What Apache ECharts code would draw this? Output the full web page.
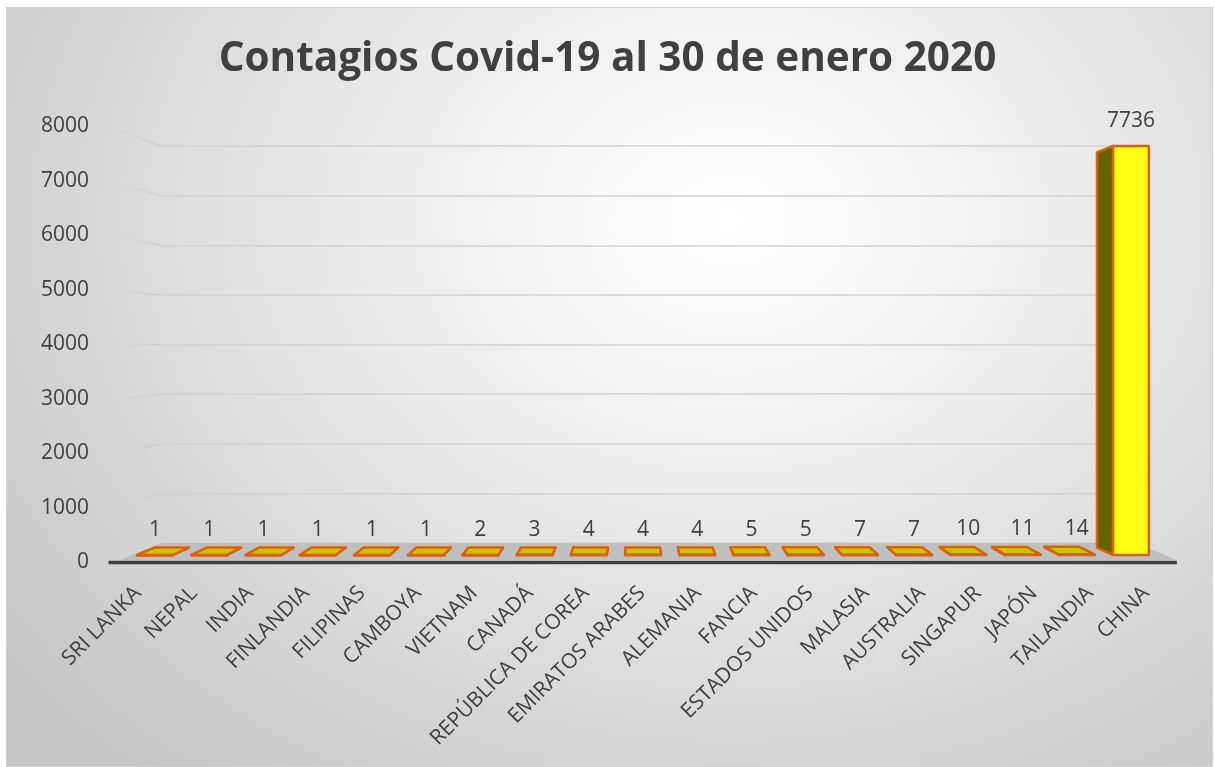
<!DOCTYPE html>
<html>
<head>
<meta charset="utf-8">
<script src="https://cdn.jsdelivr.net/npm/echarts@6/dist/echarts.min.js"></script>
<style>
  html, body { margin: 0; padding: 0; background: #ffffff; }
  #bg { position: absolute; left: 6px; top: 7px; width: 1205px; height: 758px;
        border: 1px solid #d2d2d2;
        background: radial-gradient(ellipse 75% 95% at 60% 28%, #ffffff 0%, #f5f5f5 22%, #dedede 60%, #c6c6c6 100%); }
  #chart { position: absolute; left: 0; top: 0; width: 1215px; height: 767px; }
</style>
</head>
<body>
<div id="bg"></div>
<div id="chart"></div>
<script>
const titleText = 'Contagios Covid-19 al 30 de enero 2020';
const categories = ['SRI LANKA','NEPAL','INDIA','FINLANDIA','FILIPINAS','CAMBOYA','VIETNAM','CANADÁ','REPÚBLICA DE COREA','EMIRATOS ARABES','ALEMANIA','FANCIA','ESTADOS UNIDOS','MALASIA','AUSTRALIA','SINGAPUR','JAPÓN','TAILANDIA','CHINA'];
const cases = [1,1,1,1,1,1,2,3,4,4,4,5,5,7,7,10,11,14,7736];
const yTicks = [0,1000,2000,3000,4000,5000,6000,7000,8000];

// perspective helpers (vanishing point, depth factors)
const VX = 640, VY = 337;
const KBAR = 0.034, KWALL = 0.076;
const TXT = '#404040';
const FONT = "'Open Sans', sans-serif";

function backOf(p, k) { return [p[0] + k * (VX - p[0]), p[1] + k * (VY - p[1])]; }
function frontOf(b, k) { return [(b[0] - k * VX) / (1 - k), (b[1] - k * VY) / (1 - k)]; }

function renderWall(params, api) {
  const v = api.value(1);
  const B = api.coord([0, v]);
  const F = frontOf(B, KWALL);
  const children = [];
  if (v === 0) {
    const BL = api.coord([0, 0]), BR = api.coord([1, 0]);
    const FL = frontOf(BL, KWALL), FR = frontOf(BR, KWALL);
    children.push({
      type: 'polygon',
      shape: { points: [BL, BR, FR, FL] },
      style: { fill: '#bfbfbf' }
    });
    children.push({
      type: 'line',
      shape: { x1: FL[0] - 12, y1: FL[1] + 2.5, x2: FR[0], y2: FR[1] + 2.5 },
      style: { stroke: '#404040', lineWidth: 3.5 }
    });
  } else {
    children.push({
      type: 'line',
      shape: { x1: F[0], y1: F[1], x2: B[0], y2: B[1] },
      style: {
        lineWidth: 1.5,
        stroke: new echarts.graphic.LinearGradient(0, 0, 1, 0, [
          { offset: 0, color: 'rgba(205,205,205,0)' },
          { offset: 1, color: 'rgba(205,205,205,1)' }
        ])
      }
    });
  }
  return { type: 'group', children: children };
}

function renderBar(params, api) {
  const i = api.value(0), v = api.value(1);
  const base = api.coord([i, 0]), top = api.coord([i, v]);
  const w = api.size([1, 0])[0] * 0.66;
  const xl = base[0] - w / 2, xr = base[0] + w / 2, yb = base[1], yt = top[1];
  const FLB = [xl, yb], FRB = [xr, yb], FLT = [xl, yt], FRT = [xr, yt];
  const stroke = '#d9620c';
  const children = [];
  // side face
  if (base[0] > VX) {
    children.push({ type: 'polygon', shape: { points: [FLB, FLT, backOf(FLT, KBAR), backOf(FLB, KBAR)] },
      style: { fill: '#636300', stroke: stroke, lineWidth: 2.5, lineJoin: 'round' } });
  } else {
    children.push({ type: 'polygon', shape: { points: [FRB, FRT, backOf(FRT, KBAR), backOf(FRB, KBAR)] },
      style: { fill: '#636300', stroke: stroke, lineWidth: 2.5, lineJoin: 'round' } });
  }
  // top face (visible when below eye level)
  if (yt > VY) {
    children.push({ type: 'polygon', shape: { points: [FLT, FRT, backOf(FRT, KBAR), backOf(FLT, KBAR)] },
      style: { fill: '#c9c600', stroke: stroke, lineWidth: 2.5, lineJoin: 'round' } });
  }
  // front face
  children.push({ type: 'rect', shape: { x: xl, y: yt, width: w, height: Math.max(yb - yt, 0.5) },
    style: { fill: '#ffff14', stroke: stroke, lineWidth: 2.5, lineJoin: 'round' } });
  // value label
  children.push({ type: 'text', x: base[0], y: yt - 25,
    style: { text: String(v), fill: TXT, font: "21px 'Open Sans', sans-serif", align: 'center', verticalAlign: 'middle' } });
  return { type: 'group', children: children };
}

const chart = echarts.init(document.getElementById('chart'), null, { renderer: 'canvas' });
chart.setOption({
  backgroundColor: 'transparent',
  animation: false,
  title: {
    text: titleText, left: 'center', top: 34,
    textStyle: { color: TXT, fontSize: 40.5, fontWeight: 'bold', fontFamily: FONT }
  },
  grid: [
    { left: 127.9, right: 56.9, top: 132, bottom: 212 },      // 0: bar front plane
    { left: 97, right: 56, top: 126.5, bottom: 204.5 },       // 1: y labels
    { left: 160, right: 79, top: 146, bottom: 224 },          // 2: back wall
    { left: 110, right: 41, top: 126.5, bottom: 205 }         // 3: x labels
  ],
  xAxis: [
    { gridIndex: 0, type: 'category', data: categories, show: false },
    { gridIndex: 1, type: 'value', show: false, min: 0, max: 1 },
    { gridIndex: 2, type: 'value', show: false, min: 0, max: 1 },
    { gridIndex: 3, type: 'category', data: categories,
      axisLine: { show: false }, axisTick: { show: false },
      axisLabel: { interval: 0, rotate: 45, margin: 28, color: TXT, fontSize: 21, fontFamily: FONT } }
  ],
  yAxis: [
    { gridIndex: 0, type: 'value', min: 0, max: 8000, show: false },
    { gridIndex: 1, type: 'value', min: 0, max: 8000, interval: 1000,
      axisLine: { show: false }, axisTick: { show: false }, splitLine: { show: false },
      axisLabel: { margin: 8, color: TXT, fontSize: 21, fontFamily: FONT, formatter: v => String(v) } },
    { gridIndex: 2, type: 'value', min: 0, max: 8000, interval: 1000,
      axisLine: { show: false }, axisTick: { show: false }, axisLabel: { show: false },
      splitLine: { show: true, lineStyle: { color: '#d2d2d2', width: 1.5 } } },
    { gridIndex: 3, type: 'value', min: 0, max: 1, show: false }
  ],
  series: [
    { type: 'custom', xAxisIndex: 2, yAxisIndex: 2, renderItem: renderWall,
      data: yTicks.map(v => [0, v]), z: 1 },
    { type: 'custom', xAxisIndex: 0, yAxisIndex: 0, renderItem: renderBar,
      data: cases.map((v, i) => [i, v]), z: 5 }
  ]
});
</script>
</body>
</html>
